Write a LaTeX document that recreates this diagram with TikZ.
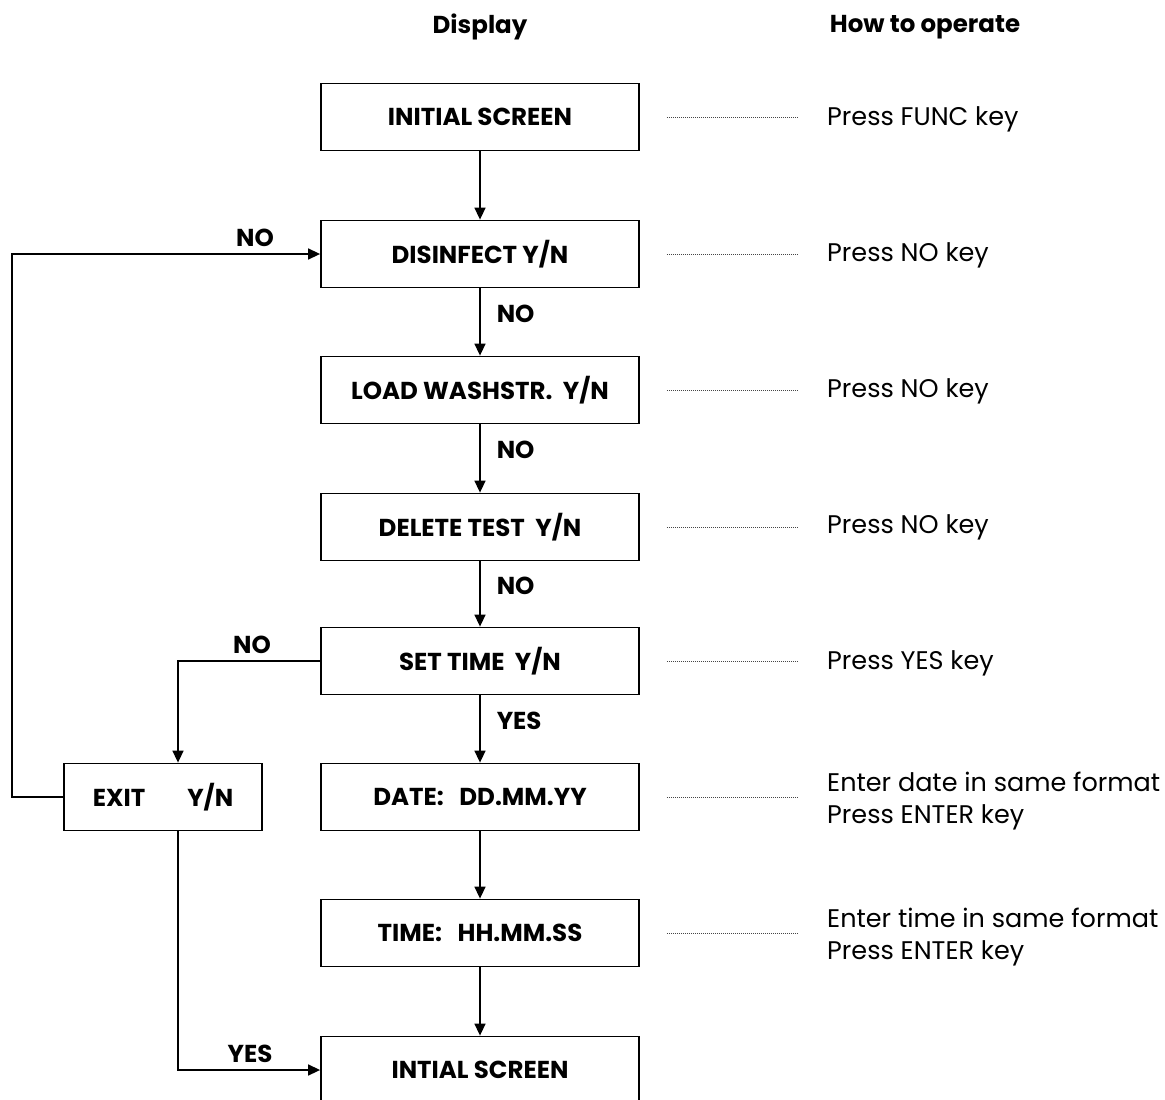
\documentclass[tikz,border=0pt]{standalone}
\usepackage{fontspec}
\setmainfont{Poppins}
\usetikzlibrary{arrows.meta}
\begin{document}
\begin{tikzpicture}[x=1pt,y=-1pt,
  box/.style={draw,line width=1.8pt,minimum width=318pt,minimum height=67pt,inner sep=0pt,font=\fontsize{24.5}{28}\selectfont\bfseries},
  lab/.style={font=\fontsize{24.5}{28}\selectfont\bfseries,inner sep=0pt},
  op/.style={font=\fontsize{25.5}{32}\selectfont,inner sep=0pt,anchor=west,align=left},
  flow/.style={line width=1.5pt,-{Triangle[length=12pt,width=11pt]}},
  dots/.style={line width=1pt,dash pattern=on 0.8pt off 1.2pt,gray!55!black}]
\useasboundingbox (0,0) rectangle (1165,1100);
\node[lab] (hd) at (480,27) {Display};
\node[lab] (ho) at (925,27) {How to operate};
\node[box] (b1) at (480,117) {INITIAL SCREEN};
\node[box] (b2) at (480,254) {DISINFECT Y/N};
\node[box] (b3) at (480,390) {LOAD WASHSTR.\ \ Y/N};
\node[box] (b4) at (480,527) {DELETE TEST\ \ Y/N};
\node[box] (b5) at (480,661) {SET TIME\ \ Y/N};
\node[box] (b6) at (480,797) {DATE:\ \ \ DD.MM.YY};
\node[box] (b7) at (480,933) {TIME:\ \ \ HH.MM.SS};
\node[box] (b8) at (480,1070) {INTIAL SCREEN};
\node[box,minimum width=198pt] (ex) at (163,797) {EXIT\hspace{42pt}Y/N};
% operation texts
\node[op] (o1) at (827,119) {Press FUNC key};
\node[op] (o2) at (827,255) {Press NO key};
\node[op] (o3) at (827,391) {Press NO key};
\node[op] (o4) at (827,527) {Press NO key};
\node[op] (o5) at (827,663) {Press YES key};
\node[op] (o6) at (827,801) {Enter date in same format\\Press ENTER key};
\node[op] (o7) at (827,937) {Enter time in same format\\Press ENTER key};
% dotted leaders
\foreach \b/\o in {b1/o1,b2/o2,b3/o3,b4/o4,b5/o5,b6/o6,b7/o7}{
  \draw[dots] ([xshift=27pt]\b.east) -- ([xshift=-29pt]\b.east -| \o.west);
}
% vertical flow
\draw[flow] (b1) -- (b2);
\draw[flow] (b2) -- (b3) node[lab,pos=0.38,right=16pt] {NO};
\draw[flow] (b3) -- (b4) node[lab,pos=0.38,right=16pt] {NO};
\draw[flow] (b4) -- (b5) node[lab,pos=0.38,right=16pt] {NO};
\draw[flow] (b5) -- (b6) node[lab,pos=0.38,right=16pt] {YES};
\draw[flow] (b6) -- (b7);
\draw[flow] (b7) -- (b8);
% side loops
\coordinate (c1) at (12,797);
\coordinate (c2) at (12,254);
\draw[flow] (ex.west) -- (c1) -- (c2) -- (b2.west);
\node[lab] (n1) at (255,238) {NO};
\coordinate (c3) at (178,661);
\draw[flow] (b5.west) -- (c3) -- (c3 |- ex.north);
\node[lab] (n2) at (252,645) {NO};
\coordinate (c4) at (178,1070);
\draw[flow] (c4 |- ex.south) -- (c4) -- (b8.west);
\node[lab] (n3) at (250,1054) {YES};
\end{tikzpicture}
\end{document}
